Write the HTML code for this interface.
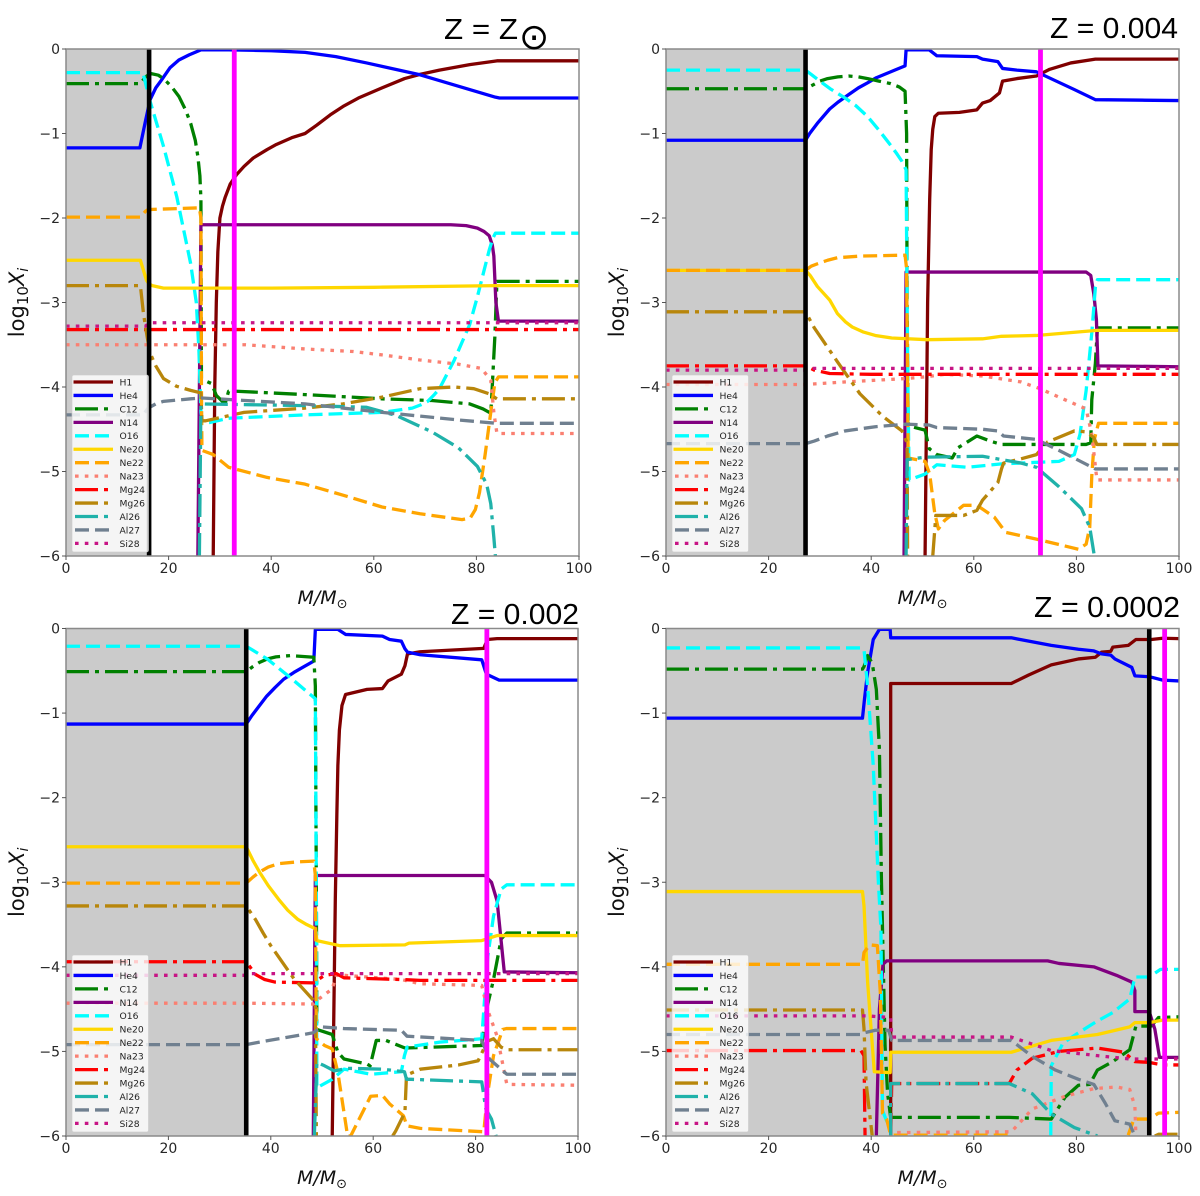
<!DOCTYPE html>
<html lang="en">
<head>
<meta charset="utf-8">
<title>Abundance profiles at four metallicities</title>
<style>
html,body{margin:0;padding:0;background:#fff;width:1200px;height:1196px;overflow:hidden}
svg{display:block;filter:blur(0.35px)}
text{font-family:"DejaVu Sans","Liberation Sans",sans-serif}
.title{font-family:"Liberation Sans",sans-serif;font-size:29px;fill:#000}
</style>
</head>
<body>
<svg id="chart" xmlns="http://www.w3.org/2000/svg" width="1200" height="1196" viewBox="0 0 1200 1196">
<rect x="0" y="0" width="1200" height="1196" fill="#fff"/>
<g id="panels"></g>
<text class="title" x="444" y="39" textLength="74" lengthAdjust="spacingAndGlyphs">Z = Z</text>
<text x="519" y="49" font-size="36" fill="#000">⊙</text>
<text class="title" x="1050" y="38" textLength="128" lengthAdjust="spacingAndGlyphs">Z = 0.004</text>
<text class="title" x="451" y="624" textLength="128" lengthAdjust="spacingAndGlyphs">Z = 0.002</text>
<text class="title" x="1034" y="617" textLength="146" lengthAdjust="spacingAndGlyphs">Z = 0.0002</text>
</svg>
<script>
// ---- axis ticks and categories ----
const massTicks = [0, 20, 40, 60, 80, 100];
const massTickLabels = ['0', '20', '40', '60', '80', '100'];
const abundanceTicks = [0, -1, -2, -3, -4, -5, -6];
const abundanceTickLabels = ['0', '−1', '−2', '−3', '−4', '−5', '−6'];
const species = ['H1', 'He4', 'C12', 'N14', 'O16', 'Ne20', 'Ne22', 'Na23', 'Mg24', 'Mg26', 'Al26', 'Al27', 'Si28'];
const panelNames = ['solar', 'z0004', 'z0002', 'z00002'];

// ---- reference mass markers per panel ----
const shadedLimit = [16.2, 27.2, 35.2, 94.2];
const blackMarker = [16.2, 27.2, 35.2, 94.2];
const magentaMarker = [32.8, 73, 82.2, 97.2];

// ---- Z = Zsun : [mass, log10 X] ----
const solarH1 = [[28.7,-6.2],[28.7,-6],[29,-4],[29.3,-3],[29.6,-2.4],[30,-2],[30.5,-1.86],[31,-1.76],[32,-1.6],[33.2,-1.49],[34.7,-1.39],[36.5,-1.29],[39.2,-1.19],[41,-1.13],[44,-1.05],[46.6,-1],[48.9,-.9],[51.5,-.78],[54,-.68],[57,-.58],[61.6,-.46],[66,-.35],[69,-.3],[72.8,-.25],[78.7,-.185],[84,-.14],[100,-.14]];
const solarHe4 = [[0,-1.17],[14.4,-1.17],[15.5,-.85],[16.4,-.6],[17.5,-.46],[18.7,-.36],[20.3,-.22],[22,-.13],[24,-.07],[26.3,-.01],[31.7,-.01],[40,-.02],[46.6,-.04],[52.6,-.09],[58.6,-.165],[69,-.305],[83.7,-.57],[84.5,-.58],[100,-.58]];
const solarC12 = [[0,-.41],[14.5,-.41],[15.5,-.33],[16.5,-.29],[18,-.31],[19,-.35],[20.5,-.44],[22,-.56],[23.3,-.72],[24.3,-.88],[25.2,-1.08],[25.7,-1.27],[26.1,-1.5],[26.3,-1.78],[26.4,-3.9],[26.9,-3.92],[28.4,-3.96],[29.3,-4.1],[31,-4.2],[31.7,-4.05],[33.2,-4.05],[46.6,-4.09],[61.6,-4.14],[71.3,-4.16],[78.7,-4.2],[81.3,-4.26],[82.8,-4.31],[83,-4.1],[83.6,-3.4],[84,-2.75],[100,-2.75]];
const solarN14 = [[25.7,-6],[26.3,-2.08],[75,-2.08],[78,-2.09],[80.2,-2.12],[81.5,-2.16],[82.5,-2.21],[83.1,-2.32],[83.4,-2.45],[83.8,-3],[84.3,-3.22],[100,-3.22]];
const solarO16 = [[0,-.28],[15,-.28],[16.3,-.6],[19,-1.15],[21.6,-1.75],[24.3,-2.54],[25.4,-3],[25.9,-3.55],[26.3,-4.3],[26.6,-4.42],[28,-4.42],[31.7,-4.37],[46.6,-4.33],[61.6,-4.3],[67.5,-4.25],[69.2,-4.21],[70.5,-4.17],[71.8,-4.09],[72.8,-4.02],[75.7,-3.68],[78.7,-3.26],[80.2,-2.93],[82.5,-2.38],[83.2,-2.24],[83.7,-2.18],[100,-2.18]];
const solarNe20 = [[0,-2.5],[14.5,-2.5],[15.7,-2.74],[16.2,-2.78],[16.8,-2.8],[19,-2.83],[40,-2.83],[60,-2.82],[84,-2.8],[100,-2.8]];
const solarNe22 = [[0,-1.99],[14.5,-1.99],[15.5,-1.92],[16,-1.9],[26,-1.88],[26.3,-2],[26.4,-4],[26.5,-4.75],[28.7,-4.8],[31.7,-4.95],[39.2,-5.07],[46.6,-5.15],[54,-5.28],[61.6,-5.42],[69,-5.5],[77.2,-5.57],[78.8,-5.55],[79.8,-5.45],[80.6,-5.25],[81.7,-4.8],[82.8,-4.3],[83.6,-3.95],[84.3,-3.88],[100,-3.88]];
const solarNa23 = [[0,-3.5],[35,-3.5],[46.6,-3.55],[56,-3.58],[61.6,-3.62],[69,-3.68],[76.5,-3.73],[81,-3.78],[82.8,-3.92],[83.4,-4.3],[84,-4.55],[100,-4.55]];
const solarMg24 = [[0,-3.32],[100,-3.32]];
const solarMg26 = [[0,-2.8],[14.5,-2.8],[15.1,-3.13],[15.8,-3.4],[16.4,-3.6],[17.5,-3.75],[19,-3.9],[21.5,-3.99],[24.3,-4.04],[26.3,-4.07],[26.5,-4.4],[27.2,-4.4],[34.7,-4.3],[46.6,-4.25],[54,-4.2],[61.6,-4.12],[69,-4.02],[75.7,-4],[79.5,-4.02],[82.5,-4.08],[84,-4.14],[100,-4.14]];
const solarAl26 = [[26,-6],[26.3,-4.2],[46.6,-4.22],[58.6,-4.24],[64.5,-4.34],[71.3,-4.53],[76.5,-4.72],[80.2,-4.94],[82,-5.15],[82.8,-5.38],[83.4,-5.78],[83.7,-6]];
const solarAl27 = [[0,-4.33],[15,-4.33],[16,-4.25],[17.5,-4.2],[19,-4.17],[24.3,-4.14],[26.5,-4.13],[46.6,-4.2],[61.6,-4.3],[76.5,-4.39],[84,-4.43],[100,-4.43]];
const solarSi28 = [[0,-3.28],[15.5,-3.28],[16.2,-3.24],[100,-3.24]];

// ---- Z = 0.004 ----
const z0004H1 = [[50.5,-6],[51,-3],[51.4,-1.78],[51.7,-1.19],[52,-.95],[52.4,-.8],[53.1,-.76],[57.2,-.75],[60.6,-.72],[61.7,-.64],[63.2,-.61],[65,-.52],[65.6,-.38],[68.4,-.35],[72.2,-.32],[74.8,-.24],[78.9,-.165],[83.7,-.12],[100,-.12]];
const z0004He4 = [[0,-1.08],[27.2,-1.08],[28,-1],[29.5,-.88],[31.9,-.71],[33.5,-.63],[35.6,-.54],[37.5,-.46],[39.3,-.4],[41,-.34],[43,-.29],[45,-.24],[46.6,-.2],[46.8,-.01],[51.3,-.01],[52.8,-.08],[60.6,-.09],[61.7,-.12],[64.7,-.15],[65.6,-.23],[68.4,-.25],[72.2,-.27],[79.6,-.48],[83.7,-.6],[100,-.61]];
const z0004C12 = [[0,-.47],[27.2,-.47],[28.5,-.43],[30,-.38],[31.5,-.35],[33.5,-.33],[35.6,-.32],[37.5,-.33],[39.3,-.35],[41.5,-.38],[43.8,-.41],[45.5,-.45],[46.6,-.5],[46.9,-1],[47,-3],[47.2,-4.46],[50.5,-4.51],[51.3,-4.73],[52.8,-4.8],[55.8,-4.84],[56.9,-4.72],[60.6,-4.58],[63.2,-4.64],[65.4,-4.68],[81.9,-4.68],[82.8,-4.66],[83,-4.15],[83.7,-3.72],[84.1,-3.3],[100,-3.3]];
const z0004N14 = [[46.4,-6],[46.8,-2.64],[81.9,-2.64],[82.8,-2.68],[83.4,-2.9],[83.9,-3.2],[84.2,-3.75],[100,-3.76]];
const z0004O16 = [[0,-.25],[27.2,-.25],[28.5,-.31],[30,-.38],[32,-.47],[34.9,-.58],[37,-.67],[39.3,-.8],[41.5,-.96],[43.8,-1.14],[45,-1.24],[46,-1.33],[46.8,-1.43],[47,-3],[47.2,-4.2],[47.4,-5.1],[50.5,-5.03],[52.8,-4.92],[58.7,-4.95],[65.4,-4.91],[76.6,-4.88],[79.6,-4.8],[80.7,-4.56],[81.9,-4.04],[83,-3.36],[83.7,-2.82],[84.1,-2.73],[100,-2.73]];
const z0004Ne20 = [[0,-2.62],[27.2,-2.62],[28.1,-2.68],[29.5,-2.81],[31.9,-2.97],[33.4,-3.13],[35,-3.23],[36.3,-3.29],[38.5,-3.35],[40.8,-3.39],[44,-3.42],[50.9,-3.44],[61.7,-3.43],[65.4,-3.4],[72.2,-3.39],[84,-3.33],[100,-3.33]];
const z0004Ne22 = [[0,-2.62],[27.2,-2.62],[28.3,-2.57],[29.6,-2.54],[31.5,-2.5],[33.4,-2.47],[38,-2.45],[46.6,-2.44],[46.9,-2.6],[47.1,-4],[47.2,-4.84],[50.5,-4.88],[51.4,-5.03],[52.4,-5.5],[53.1,-5.68],[54.3,-5.58],[58,-5.4],[60.6,-5.4],[64,-5.54],[66.2,-5.72],[72.2,-5.8],[80.4,-5.92],[81.9,-5.86],[82.6,-5.66],[83,-5.05],[83.5,-4.62],[84.3,-4.43],[100,-4.43]];
const z0004Na23 = [[0,-3.97],[27.2,-3.97],[34.9,-3.94],[46.8,-3.9],[50.5,-3.88],[54.3,-3.85],[61.7,-3.87],[69.2,-3.94],[72.9,-4.02],[76.6,-4.12],[81.9,-4.26],[83,-4.56],[84,-5.1],[100,-5.1]];
const z0004Mg24 = [[0,-3.75],[27.2,-3.75],[28.9,-3.8],[31.9,-3.84],[40,-3.85],[100,-3.85]];
const z0004Mg26 = [[0,-3.11],[27.2,-3.11],[28.9,-3.3],[33.4,-3.7],[37.8,-4.08],[42.3,-4.35],[46,-4.52],[47,-4.66],[47.1,-6],[null,null],[52,-6],[52.6,-5.52],[58,-5.52],[60.6,-5.46],[61.7,-5.34],[64.7,-5.13],[65.4,-4.97],[65.8,-4.9],[69.2,-4.85],[72.2,-4.8],[74.4,-4.65],[79.6,-4.52],[81.9,-4.53],[83.4,-4.6],[84,-4.68],[100,-4.68]];
const z0004Al26 = [[46.8,-6],[47,-4.86],[50.5,-4.83],[61.7,-4.82],[69.2,-4.9],[72.2,-4.95],[76.6,-5.18],[81,-5.44],[82.6,-5.66],[83.5,-6]];
const z0004Al27 = [[0,-4.67],[27.2,-4.67],[28.9,-4.64],[31.5,-4.58],[34.9,-4.52],[40.8,-4.47],[46.8,-4.44],[51.3,-4.45],[52.8,-4.48],[61.7,-4.5],[64.7,-4.52],[65.8,-4.58],[72.2,-4.62],[76.6,-4.75],[83.7,-4.97],[100,-4.97]];
const z0004Si28 = [[0,-3.8],[27.2,-3.8],[28,-3.78],[100,-3.78]];

// ---- Z = 0.002 ----
const z0002H1 = [[52,-6],[52.6,-3.2],[52.9,-2.2],[53.1,-1.62],[53.4,-1.2],[53.9,-.91],[54.6,-.78],[58.8,-.72],[61.8,-.71],[62.9,-.62],[65.5,-.54],[66.2,-.44],[66.7,-.3],[69.2,-.275],[81.6,-.235],[82.3,-.13],[84.2,-.12],[100,-.12]];
const z0002He4 = [[0,-1.13],[35.2,-1.13],[36.3,-1.03],[37.8,-.91],[39.2,-.8],[40.8,-.7],[42.5,-.6],[44.5,-.52],[46.5,-.45],[48.4,-.385],[48.7,-.01],[53.1,-.01],[54.6,-.07],[61.8,-.09],[63.2,-.13],[65.5,-.15],[66.2,-.24],[66.7,-.28],[69.2,-.31],[81.2,-.37],[82.1,-.54],[84.6,-.61],[100,-.61]];
const z0002C12 = [[0,-.51],[35.2,-.51],[36.5,-.45],[37.8,-.4],[39.3,-.36],[41,-.335],[43.8,-.32],[48.4,-.34],[48.7,-.68],[48.9,-3.2],[49,-4.74],[52,-4.8],[53.1,-5.01],[54.3,-5.09],[58.8,-5.15],[59.4,-5.17],[60.6,-4.87],[62.5,-4.87],[66.2,-4.96],[81.2,-4.93],[82,-4.54],[83.5,-4.15],[85,-3.67],[86.1,-3.6],[100,-3.6]];
const z0002N14 = [[48.3,-6],[48.7,-2.92],[81.8,-2.92],[83.1,-3],[84.2,-3.22],[85.6,-4.06],[100,-4.07]];
const z0002O16 = [[0,-.21],[35.2,-.21],[39.3,-.36],[43.8,-.58],[48.7,-.83],[48.9,-3.2],[49,-5.43],[52,-5.33],[54.3,-5.21],[59.5,-5.27],[65.5,-5.24],[66.1,-5.05],[66.6,-4.95],[73,-4.89],[81.2,-4.85],[81.8,-4.34],[82.4,-3.87],[83.5,-3.4],[85,-3.08],[86.1,-3.03],[100,-3.03]];
const z0002Ne20 = [[0,-2.58],[35.2,-2.58],[36.5,-2.74],[37.8,-2.88],[39.5,-3.04],[41.5,-3.2],[43.3,-3.33],[45.3,-3.44],[47,-3.5],[48.7,-3.55],[49,-3.69],[53.5,-3.75],[66.2,-3.74],[67,-3.72],[81.2,-3.69],[84.2,-3.63],[100,-3.63]];
const z0002Ne22 = [[0,-3.01],[35.2,-3.01],[36.5,-2.94],[37.8,-2.88],[39.5,-2.82],[41.5,-2.78],[45,-2.76],[48.4,-2.75],[48.7,-2.92],[48.8,-4],[48.9,-4.85],[50.5,-4.93],[52,-4.97],[53.1,-5.25],[55,-6],[55.6,-6],[59.5,-5.53],[61.8,-5.52],[63.2,-5.62],[65.9,-5.76],[66.6,-5.88],[69.2,-5.91],[81.6,-5.95],[82.3,-5.52],[83.5,-5.05],[85.3,-4.74],[86,-4.73],[100,-4.73]];
const z0002Na23 = [[0,-4.43],[35.6,-4.43],[48.3,-4.44],[49.4,-4.38],[52,-4.26],[52.8,-4.1],[54.3,-4.1],[65.5,-4.15],[69.2,-4.2],[81.2,-4.22],[82.3,-4.5],[84.2,-4.82],[86.1,-5.39],[100,-5.4]];
const z0002Mg24 = [[0,-3.94],[35.2,-3.94],[37,-4.09],[38.8,-4.15],[40.8,-4.18],[48.3,-4.19],[50.5,-4.1],[52.8,-4.08],[54.3,-4.13],[65.5,-4.15],[69.2,-4.16],[100,-4.16]];
const z0002Mg26 = [[0,-3.28],[35.2,-3.28],[37,-3.44],[38.5,-3.6],[40,-3.75],[44.5,-4.14],[48.7,-4.42],[48.9,-6],[null,null],[63.8,-6],[64.4,-5.94],[66.2,-5.72],[66.5,-5.28],[69.2,-5.21],[76.7,-5.16],[80.5,-5.11],[82.3,-4.88],[83.5,-4.85],[85,-4.95],[86.1,-4.98],[100,-4.98]];
const z0002Al26 = [[48.5,-6],[49,-5.13],[50.5,-5.17],[52.4,-5.23],[55,-5.2],[61.8,-5.21],[66.1,-5.24],[66.5,-5.33],[67.4,-5.33],[81.2,-5.36],[82,-5.68],[83.1,-5.8],[84,-6]];
const z0002Al27 = [[0,-4.92],[35.2,-4.92],[37.8,-4.89],[48.3,-4.78],[49.8,-4.71],[54.3,-4.73],[65.5,-4.75],[66.6,-4.82],[81.2,-4.87],[82.7,-5.09],[86.1,-5.27],[100,-5.27]];
const z0002Si28 = [[0,-4.1],[35.2,-4.1],[36,-4.08],[100,-4.08]];

// ---- Z = 0.0002 ----
const z00002H1 = [[43.8,-6],[43.8,-.65],[67.3,-.65],[70.7,-.55],[75.1,-.43],[80.4,-.36],[83.7,-.34],[84.9,-.28],[86.7,-.27],[87.1,-.22],[90.1,-.2],[91.6,-.13],[94.6,-.13],[96.8,-.115],[100,-.12]];
const z00002He4 = [[0,-1.06],[38.3,-1.06],[38.7,-.83],[39.3,-.52],[40.4,-.13],[41.6,-.01],[43.7,-.01],[43.8,-.11],[67.3,-.11],[75.1,-.2],[80.4,-.245],[83.4,-.265],[84.9,-.3],[86.7,-.315],[87.5,-.36],[90.8,-.46],[91.4,-.56],[94.2,-.57],[94.9,-.58],[96.8,-.61],[100,-.62]];
const z00002C12 = [[0,-.48],[38.3,-.48],[38.6,-.45],[39.3,-.32],[40.2,-.41],[41,-.72],[41.6,-1.43],[42,-3],[42.2,-3.55],[42.7,-4.93],[43.2,-5.5],[43.8,-5.78],[66.9,-5.78],[75.1,-5.8],[77.8,-5.54],[80.4,-5.4],[82.6,-5.39],[84.1,-5.22],[87.1,-5.12],[90.4,-4.98],[91.6,-4.7],[94.6,-4.7],[96,-4.6],[100,-4.59]];
const z00002N14 = [[41,-6],[41.6,-4.5],[42.3,-3.97],[43,-3.93],[74.4,-3.93],[76.6,-3.96],[83.4,-4],[87.8,-4.1],[90.8,-4.18],[91.4,-4.28],[91.4,-4.53],[94.2,-4.53],[95.3,-4.74],[96.2,-5.07],[100,-5.07]];
const z00002O16 = [[0,-.23],[38,-.23],[38.6,-.25],[39.3,-.68],[40.4,-1.62],[41.4,-3],[41.9,-3.55],[42.2,-5.7],[43,-5.82],[43.8,-5.9],[null,null],[75,-6],[75.1,-5.17],[77.4,-4.9],[80.4,-4.78],[84.1,-4.64],[87.1,-4.54],[90.4,-4.38],[91.4,-4.12],[94.2,-4.12],[96.4,-4.03],[100,-4.03]];
const z00002Ne20 = [[0,-3.11],[38.3,-3.11],[38.6,-3.28],[39.3,-4.18],[40.6,-5.24],[43.7,-5.25],[43.8,-5.01],[67.3,-5.01],[75.1,-4.87],[84.1,-4.8],[90.4,-4.71],[91.4,-4.66],[94.2,-4.66],[96.8,-4.63],[100,-4.63]];
const z00002Ne22 = [[0,-3.97],[38.3,-3.97],[38.6,-3.83],[39.7,-3.74],[41.2,-3.75],[41.8,-4.33],[42.2,-5.73],[43,-5.8],[43.8,-5.99],[67.3,-5.99],[null,null],[90.1,-5.99],[91.2,-5.8],[94.2,-5.8],[96,-5.73],[100,-5.72]];
const z00002Na23 = [[43.8,-6],[43.8,-5.96],[67.3,-5.95],[68.4,-5.88],[71.4,-5.68],[77.8,-5.53],[83.4,-5.44],[87.8,-5.42],[90.4,-5.45],[91.4,-5.65],[91.6,-6]];
const z00002Mg24 = [[0,-4.99],[38,-4.99],[38.6,-5.05],[38.8,-6],[null,null],[43.8,-6],[44,-5.38],[66.9,-5.38],[68.4,-5.22],[71.4,-5.08],[76.6,-5],[84.1,-4.96],[89.3,-5.01],[91.4,-5.12],[94.2,-5.13],[96.8,-5.16],[100,-5.16]];
const z00002Mg26 = [[0,-4.51],[38.3,-4.51],[38.6,-4.73],[39,-5.37],[40.2,-6],[null,null],[95.3,-6],[96,-5.98],[100,-5.98]];
const z00002Al26 = [[43.8,-6],[43.8,-5.38],[66.9,-5.38],[71.4,-5.5],[75.1,-5.74],[79.6,-5.9],[84.1,-6]];
const z00002Al27 = [[0,-4.8],[38,-4.8],[38.6,-4.78],[40.8,-4.75],[43.4,-4.75],[44,-4.87],[67.3,-4.87],[71.4,-5.06],[75.9,-5.22],[80.4,-5.33],[83.4,-5.39],[85.6,-5.61],[87.5,-5.82],[90.4,-5.86],[91.4,-6]];
const z00002Si28 = [[0,-4.58],[39.3,-4.58],[43.8,-4.6],[44,-4.83],[67.3,-4.83],[75.1,-4.99],[84.1,-5.05],[90.4,-5.09],[100,-5.09]];

const solarSeries = [solarH1, solarHe4, solarC12, solarN14, solarO16, solarNe20, solarNe22, solarNa23, solarMg24, solarMg26, solarAl26, solarAl27, solarSi28];
const z0004Series = [z0004H1, z0004He4, z0004C12, z0004N14, z0004O16, z0004Ne20, z0004Ne22, z0004Na23, z0004Mg24, z0004Mg26, z0004Al26, z0004Al27, z0004Si28];
const z0002Series = [z0002H1, z0002He4, z0002C12, z0002N14, z0002O16, z0002Ne20, z0002Ne22, z0002Na23, z0002Mg24, z0002Mg26, z0002Al26, z0002Al27, z0002Si28];
const z00002Series = [z00002H1, z00002He4, z00002C12, z00002N14, z00002O16, z00002Ne20, z00002Ne22, z00002Na23, z00002Mg24, z00002Mg26, z00002Al26, z00002Al27, z00002Si28];
const allSeries = [solarSeries, z0004Series, z0002Series, z00002Series];

// ---- presentation ----
const frames = [
  {l: 66, r: 579, t: 49, b: 556},
  {l: 666, r: 1179, t: 49, b: 556},
  {l: 66, r: 578, t: 628.5, b: 1136},
  {l: 666, r: 1179, t: 628.5, b: 1136}
];
const colors = ['#800000', '#0000ff', '#008000', '#800080', '#00ffff', '#ffd700', '#ffa500', '#fa8072', '#ff0000', '#b8860b', '#20b2aa', '#708090', '#c71585'];
const dashes = ['', '', '23 6 4 6', '', '14 6', '', '14 6', '3.6 6.2', '23 6 4 6', '23 6 4 6', '23 6 4 6', '14 6', '3.6 6.2'];
const NS = 'http://www.w3.org/2000/svg';
const root = document.getElementById('panels');

function make(tag, attrs, parent) {
  const node = document.createElementNS(NS, tag);
  for (const k in attrs) node.setAttribute(k, attrs[k]);
  parent.appendChild(node);
  return node;
}
function xAxis(f, m) { return f.l + (m / 100) * (f.r - f.l); }
function yAxis(f, v) { return f.t + (-v / 6) * (f.b - f.t); }
function pathFrom(f, pts) {
  let d = '', pen = false;
  pts.forEach(function (p) {
    if (p[1] === null) { pen = false; return; }
    d += (pen ? 'L' : 'M') + xAxis(f, p[0]).toFixed(2) + ' ' + yAxis(f, p[1]).toFixed(2);
    pen = true;
  });
  return d;
}

panelNames.forEach(function (panelName, pi) {
  const f = frames[pi];
  const g = make('g', {}, root);
  
  

  const clip = make('clipPath', {id: 'clip-' + pi}, g);
  make('rect', {x: f.l, y: f.t, width: f.r - f.l, height: f.b - f.t}, clip);

  const shade = make('rect', {x: f.l, y: f.t, width: xAxis(f, shadedLimit[pi]) - f.l, height: f.b - f.t, fill: '#cbcbcb'}, g);
  
  

  const plot = make('g', {'clip-path': 'url(#clip-' + pi + ')'}, g);
  
  

  species.forEach(function (name, si) {
    const line = make('path', {d: pathFrom(f, allSeries[pi][si]), fill: 'none', stroke: colors[si], 'stroke-width': 3.3, 'stroke-linejoin': 'round', 'stroke-dasharray': dashes[si] || 'none'}, plot);
    
    
  });

  const blackLine = make('line', {x1: xAxis(f, blackMarker[pi]), x2: xAxis(f, blackMarker[pi]), y1: f.t, y2: f.b, stroke: '#000', 'stroke-width': 4.6}, plot);
  
  

  const magentaLine = make('line', {x1: xAxis(f, magentaMarker[pi]), x2: xAxis(f, magentaMarker[pi]), y1: f.t, y2: f.b, stroke: '#ff00ff', 'stroke-width': 4.8}, plot);
  
  

  const frame = make('rect', {x: f.l, y: f.t, width: f.r - f.l, height: f.b - f.t, fill: 'none', stroke: '#8a8a8a', 'stroke-width': 1.5}, g);
  
  

  massTicks.forEach(function (m, i) {
    const x = xAxis(f, m);
    const tick = make('line', {x1: x, x2: x, y1: f.b, y2: f.b + 4, stroke: '#555', 'stroke-width': 1}, g);
    
    
    const label = make('text', {x: x, y: f.b + 17, 'font-size': 14, 'text-anchor': 'middle', fill: '#262626'}, g);
    
    
    label.textContent = massTickLabels[i];
  });

  abundanceTicks.forEach(function (v, i) {
    const y = yAxis(f, v);
    const tick = make('line', {x1: f.l - 4, x2: f.l, y1: y, y2: y, stroke: '#555', 'stroke-width': 1}, g);
    
    
    const label = make('text', {x: f.l - 6, y: y + 5, 'font-size': 14, 'text-anchor': 'end', fill: '#262626'}, g);
    
    
    label.textContent = abundanceTickLabels[i];
  });

  const xTitle = make('text', {x: (f.l + f.r) / 2, y: f.b + 48, 'font-size': 19, 'text-anchor': 'middle', fill: '#111'}, g);
  
  
  xTitle.innerHTML = '<tspan font-style="italic">M/M</tspan><tspan font-size="13" dy="4">⊙</tspan>';

  const cy = (f.t + f.b) / 2;
  const yTitle = make('text', {transform: 'translate(' + (f.l - 42) + ' ' + cy + ') rotate(-90)', x: 0, y: 0, 'font-size': 21, 'text-anchor': 'middle', fill: '#111'}, g);
  
  
  yTitle.innerHTML = 'log<tspan font-size="15" dy="4">10</tspan><tspan font-style="italic" dy="-4">X</tspan><tspan font-style="italic" font-size="14" dy="4">i</tspan>';

  const lx = f.l + 6, ly = f.b - 181;
  const legend = make('g', {}, g);
  
  
  const box = make('rect', {x: lx, y: ly, width: 76.5, height: 177, rx: 2, fill: '#fff', 'fill-opacity': 0.8, stroke: '#ccc', 'stroke-opacity': 0.8, 'stroke-width': 0.8}, legend);
  
  
  species.forEach(function (name, si) {
    const y = ly + 7 + si * 13.45;
    const swatch = make('line', {x1: lx + 1.5, x2: lx + 41, y1: y, y2: y, stroke: colors[si], 'stroke-width': 3.3, 'stroke-dasharray': dashes[si] ? dashes[si] : 'none', 'stroke-dashoffset': dashes[si] ? -1.5 : 0}, legend);
    
    
    const text = make('text', {x: lx + 47.5, y: y + 3.4, 'font-size': 9.2, fill: '#222'}, legend);
    
    
    text.textContent = name;
  });
});
</script>
</body>
</html>
